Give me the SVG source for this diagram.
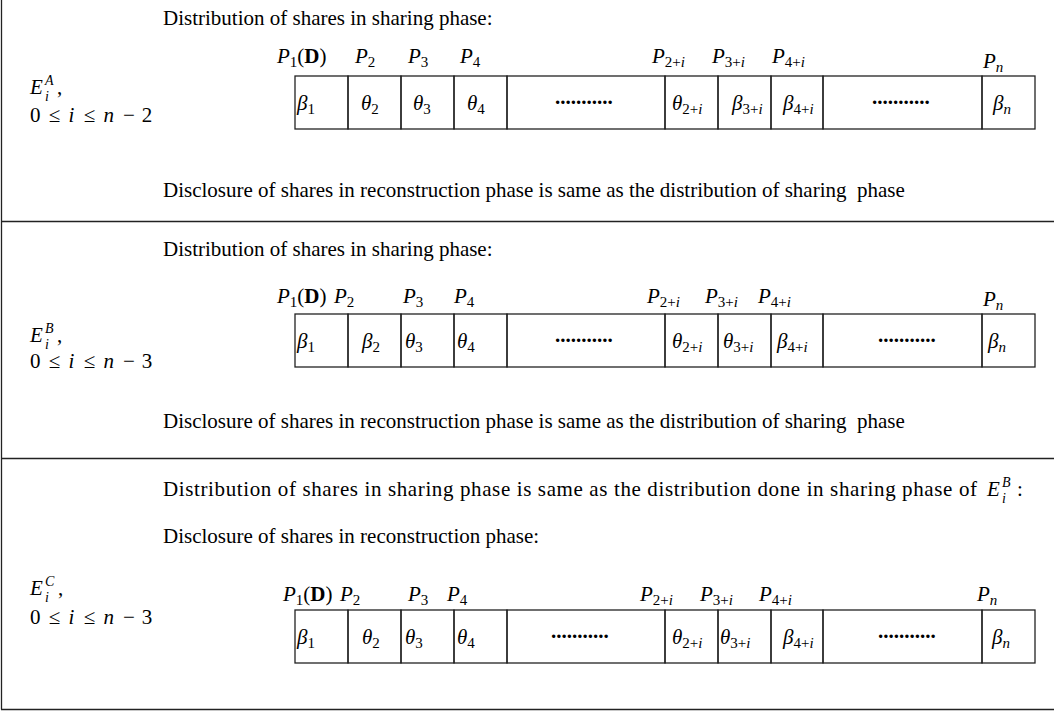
<svg xmlns="http://www.w3.org/2000/svg" width="1054" height="713" viewBox="0 0 1054 713">
  <style>
    .t { font-family: "Liberation Serif", "Times New Roman", serif; font-size: 21px; fill: #000; white-space: pre; }
    .mi { font-style: italic; }
    .sub { font-size: 15px; }
    .ss { font-size: 14px; font-style: italic; }
    .bf { font-weight: bold; }
    .dots { font-family: "Liberation Serif", serif; font-size: 21px; font-weight: bold; fill: #000; }
    .cell { fill: none; stroke: #222; stroke-width: 1.3; }
    .rule { stroke: #222; stroke-width: 1.3; fill: none; }
  </style>

  <!-- frame and panel separators -->
  <g id="frame">
    <line class="rule" x1="1.5" y1="0" x2="1.5" y2="709.5"/>
    <line class="rule" x1="1" y1="221.5" x2="1054" y2="221.5"/>
    <line class="rule" x1="1" y1="458.5" x2="1054" y2="458.5"/>
    <line class="rule" x1="1" y1="709.5" x2="1054" y2="709.5"/>
  </g>

  <!-- ===================== Panel A ===================== -->
  <g id="panelA">
    <g id="labelA">
      <text class="t"><tspan x="30" y="94" class="mi">E</tspan><tspan x="45" y="85" class="ss">A</tspan><tspan x="45" y="101" class="ss">i</tspan><tspan x="57" y="94">,</tspan></text>
      <text class="t"><tspan x="30" y="122">0</tspan><tspan x="54.5" y="122" text-anchor="middle">≤</tspan><tspan x="68.4" y="122" class="mi">i</tspan><tspan x="89.5" y="122" text-anchor="middle">≤</tspan><tspan x="103.5" y="122" class="mi">n</tspan><tspan x="129" y="122" text-anchor="middle">−</tspan><tspan x="141.8" y="122">2</tspan></text>
    </g>
    <text class="t" x="163" y="25">Distribution of shares in sharing phase:</text>

    <g id="partiesA">
      <text class="t" y="63"><tspan x="277" class="mi">P</tspan><tspan class="sub" dy="4">1</tspan><tspan dy="-4">(</tspan><tspan class="bf">D</tspan>)</text>
      <text class="t" y="63"><tspan x="355" class="mi">P</tspan><tspan class="sub" dy="4">2</tspan></text>
      <text class="t" y="63"><tspan x="408" class="mi">P</tspan><tspan class="sub" dy="4">3</tspan></text>
      <text class="t" y="63"><tspan x="460" class="mi">P</tspan><tspan class="sub" dy="4">4</tspan></text>
      <text class="t" y="63"><tspan x="652" class="mi">P</tspan><tspan class="sub" dy="4">2+</tspan><tspan class="sub mi">i</tspan></text>
      <text class="t" y="63"><tspan x="712" class="mi">P</tspan><tspan class="sub" dy="4">3+</tspan><tspan class="sub mi">i</tspan></text>
      <text class="t" y="63"><tspan x="772" class="mi">P</tspan><tspan class="sub" dy="4">4+</tspan><tspan class="sub mi">i</tspan></text>
      <text class="t" y="68"><tspan x="983" class="mi">P</tspan><tspan class="sub mi" dy="4">n</tspan></text>
    </g>

    <g id="sharesA">
      <g id="A1"><rect class="cell" x="295" y="76" width="53" height="53"/><text class="t" y="110"><tspan x="297" class="mi">β</tspan><tspan class="sub" dy="4">1</tspan></text></g>
      <g id="A2"><rect class="cell" x="348" y="76" width="53" height="53"/><text class="t" y="110"><tspan x="361" class="mi">θ</tspan><tspan class="sub" dy="4">2</tspan></text></g>
      <g id="A3"><rect class="cell" x="401" y="76" width="53" height="53"/><text class="t" y="110"><tspan x="413" class="mi">θ</tspan><tspan class="sub" dy="4">3</tspan></text></g>
      <g id="A4"><rect class="cell" x="454" y="76" width="53" height="53"/><text class="t" y="110"><tspan x="467" class="mi">θ</tspan><tspan class="sub" dy="4">4</tspan></text></g>
      <g id="A5"><rect class="cell" x="507" y="76" width="158" height="53"/><text class="dots" x="555" y="104">...........</text></g>
      <g id="A6"><rect class="cell" x="665" y="76" width="53" height="53"/><text class="t" y="110"><tspan x="672" class="mi">θ</tspan><tspan class="sub" dy="4">2+</tspan><tspan class="sub mi">i</tspan></text></g>
      <g id="A7"><rect class="cell" x="718" y="76" width="53" height="53"/><text class="t" y="110"><tspan x="732" class="mi">β</tspan><tspan class="sub" dy="4">3+</tspan><tspan class="sub mi">i</tspan></text></g>
      <g id="A8"><rect class="cell" x="771" y="76" width="52" height="53"/><text class="t" y="110"><tspan x="783" class="mi">β</tspan><tspan class="sub" dy="4">4+</tspan><tspan class="sub mi">i</tspan></text></g>
      <g id="A9"><rect class="cell" x="823" y="76" width="159" height="53"/><text class="dots" x="872" y="104">...........</text></g>
      <g id="A10"><rect class="cell" x="982" y="76" width="53" height="53"/><text class="t" y="110"><tspan x="993" class="mi">β</tspan><tspan class="sub mi" dy="4">n</tspan></text></g>
    </g>

    <text class="t" x="163" y="197">Disclosure of shares in reconstruction phase is same as the distribution of sharing  phase</text>
  </g>

  <!-- ===================== Panel B ===================== -->
  <g id="panelB">
    <g id="labelB">
      <text class="t"><tspan x="30" y="342" class="mi">E</tspan><tspan x="45" y="333" class="ss">B</tspan><tspan x="45" y="349" class="ss">i</tspan><tspan x="57" y="342">,</tspan></text>
      <text class="t"><tspan x="30" y="368">0</tspan><tspan x="54.5" y="368" text-anchor="middle">≤</tspan><tspan x="68.4" y="368" class="mi">i</tspan><tspan x="89.5" y="368" text-anchor="middle">≤</tspan><tspan x="103.5" y="368" class="mi">n</tspan><tspan x="129" y="368" text-anchor="middle">−</tspan><tspan x="141.8" y="368">3</tspan></text>
    </g>
    <text class="t" x="163" y="256">Distribution of shares in sharing phase:</text>

    <g id="partiesB">
      <text class="t" y="303"><tspan x="277" class="mi">P</tspan><tspan class="sub" dy="4">1</tspan><tspan dy="-4">(</tspan><tspan class="bf">D</tspan>)</text>
      <text class="t" y="303"><tspan x="334" class="mi">P</tspan><tspan class="sub" dy="4">2</tspan></text>
      <text class="t" y="303"><tspan x="403" class="mi">P</tspan><tspan class="sub" dy="4">3</tspan></text>
      <text class="t" y="303"><tspan x="454" class="mi">P</tspan><tspan class="sub" dy="4">4</tspan></text>
      <text class="t" y="303"><tspan x="647" class="mi">P</tspan><tspan class="sub" dy="4">2+</tspan><tspan class="sub mi">i</tspan></text>
      <text class="t" y="303"><tspan x="705" class="mi">P</tspan><tspan class="sub" dy="4">3+</tspan><tspan class="sub mi">i</tspan></text>
      <text class="t" y="303"><tspan x="758" class="mi">P</tspan><tspan class="sub" dy="4">4+</tspan><tspan class="sub mi">i</tspan></text>
      <text class="t" y="306"><tspan x="983" class="mi">P</tspan><tspan class="sub mi" dy="4">n</tspan></text>
    </g>

    <g id="sharesB">
      <g id="B1"><rect class="cell" x="295" y="314" width="53" height="53"/><text class="t" y="348"><tspan x="297" class="mi">β</tspan><tspan class="sub" dy="4">1</tspan></text></g>
      <g id="B2"><rect class="cell" x="348" y="314" width="53" height="53"/><text class="t" y="348"><tspan x="362" class="mi">β</tspan><tspan class="sub" dy="4">2</tspan></text></g>
      <g id="B3"><rect class="cell" x="401" y="314" width="53" height="53"/><text class="t" y="348"><tspan x="405" class="mi">θ</tspan><tspan class="sub" dy="4">3</tspan></text></g>
      <g id="B4"><rect class="cell" x="454" y="314" width="53" height="53"/><text class="t" y="348"><tspan x="457" class="mi">θ</tspan><tspan class="sub" dy="4">4</tspan></text></g>
      <g id="B5"><rect class="cell" x="507" y="314" width="158" height="53"/><text class="dots" x="555" y="342">...........</text></g>
      <g id="B6"><rect class="cell" x="665" y="314" width="53" height="53"/><text class="t" y="348"><tspan x="672" class="mi">θ</tspan><tspan class="sub" dy="4">2+</tspan><tspan class="sub mi">i</tspan></text></g>
      <g id="B7"><rect class="cell" x="718" y="314" width="53" height="53"/><text class="t" y="348"><tspan x="723" class="mi">θ</tspan><tspan class="sub" dy="4">3+</tspan><tspan class="sub mi">i</tspan></text></g>
      <g id="B8"><rect class="cell" x="771" y="314" width="52" height="53"/><text class="t" y="348"><tspan x="777" class="mi">β</tspan><tspan class="sub" dy="4">4+</tspan><tspan class="sub mi">i</tspan></text></g>
      <g id="B9"><rect class="cell" x="823" y="314" width="159" height="53"/><text class="dots" x="878" y="342">...........</text></g>
      <g id="B10"><rect class="cell" x="982" y="314" width="53" height="53"/><text class="t" y="348"><tspan x="988" class="mi">β</tspan><tspan class="sub mi" dy="4">n</tspan></text></g>
    </g>

    <text class="t" x="163" y="428">Disclosure of shares in reconstruction phase is same as the distribution of sharing  phase</text>
  </g>

  <!-- ===================== Panel C ===================== -->
  <g id="panelC">
    <g id="labelC">
      <text class="t"><tspan x="30" y="595" class="mi">E</tspan><tspan x="45" y="586" class="ss">C</tspan><tspan x="45" y="602" class="ss">i</tspan><tspan x="58" y="595">,</tspan></text>
      <text class="t"><tspan x="30" y="624">0</tspan><tspan x="54.5" y="624" text-anchor="middle">≤</tspan><tspan x="68.4" y="624" class="mi">i</tspan><tspan x="89.5" y="624" text-anchor="middle">≤</tspan><tspan x="103.5" y="624" class="mi">n</tspan><tspan x="129" y="624" text-anchor="middle">−</tspan><tspan x="141.8" y="624">3</tspan></text>
    </g>
    <text class="t" x="163" y="496" textLength="814" lengthAdjust="spacing">Distribution of shares in sharing phase is same as the distribution done in sharing phase of</text>
    <text class="t"><tspan x="987" y="496" class="mi">E</tspan><tspan x="1002" y="487" class="ss">B</tspan><tspan x="1002" y="503" class="ss">i</tspan><tspan x="1017" y="496">:</tspan></text>
    <text class="t" x="163" y="543">Disclosure of shares in reconstruction phase:</text>

    <g id="partiesC">
      <text class="t" y="601"><tspan x="283" class="mi">P</tspan><tspan class="sub" dy="4">1</tspan><tspan dy="-4">(</tspan><tspan class="bf">D</tspan>)</text>
      <text class="t" y="601"><tspan x="340" class="mi">P</tspan><tspan class="sub" dy="4">2</tspan></text>
      <text class="t" y="601"><tspan x="408" class="mi">P</tspan><tspan class="sub" dy="4">3</tspan></text>
      <text class="t" y="601"><tspan x="447" class="mi">P</tspan><tspan class="sub" dy="4">4</tspan></text>
      <text class="t" y="601"><tspan x="640" class="mi">P</tspan><tspan class="sub" dy="4">2+</tspan><tspan class="sub mi">i</tspan></text>
      <text class="t" y="601"><tspan x="700" class="mi">P</tspan><tspan class="sub" dy="4">3+</tspan><tspan class="sub mi">i</tspan></text>
      <text class="t" y="601"><tspan x="759" class="mi">P</tspan><tspan class="sub" dy="4">4+</tspan><tspan class="sub mi">i</tspan></text>
      <text class="t" y="601"><tspan x="977" class="mi">P</tspan><tspan class="sub mi" dy="4">n</tspan></text>
    </g>

    <g id="sharesC">
      <g id="C1"><rect class="cell" x="295" y="610" width="53" height="53"/><text class="t" y="644"><tspan x="297" class="mi">β</tspan><tspan class="sub" dy="4">1</tspan></text></g>
      <g id="C2"><rect class="cell" x="348" y="610" width="53" height="53"/><text class="t" y="644"><tspan x="362" class="mi">θ</tspan><tspan class="sub" dy="4">2</tspan></text></g>
      <g id="C3"><rect class="cell" x="401" y="610" width="53" height="53"/><text class="t" y="644"><tspan x="405" class="mi">θ</tspan><tspan class="sub" dy="4">3</tspan></text></g>
      <g id="C4"><rect class="cell" x="454" y="610" width="53" height="53"/><text class="t" y="644"><tspan x="457" class="mi">θ</tspan><tspan class="sub" dy="4">4</tspan></text></g>
      <g id="C5"><rect class="cell" x="507" y="610" width="158" height="53"/><text class="dots" x="551" y="638">...........</text></g>
      <g id="C6"><rect class="cell" x="665" y="610" width="53" height="53"/><text class="t" y="644"><tspan x="672" class="mi">θ</tspan><tspan class="sub" dy="4">2+</tspan><tspan class="sub mi">i</tspan></text></g>
      <g id="C7"><rect class="cell" x="718" y="610" width="53" height="53"/><text class="t" y="644"><tspan x="720" class="mi">θ</tspan><tspan class="sub" dy="4">3+</tspan><tspan class="sub mi">i</tspan></text></g>
      <g id="C8"><rect class="cell" x="771" y="610" width="52" height="53"/><text class="t" y="644"><tspan x="783" class="mi">β</tspan><tspan class="sub" dy="4">4+</tspan><tspan class="sub mi">i</tspan></text></g>
      <g id="C9"><rect class="cell" x="823" y="610" width="159" height="53"/><text class="dots" x="878" y="638">...........</text></g>
      <g id="C10"><rect class="cell" x="982" y="610" width="53" height="53"/><text class="t" y="644"><tspan x="992" class="mi">β</tspan><tspan class="sub mi" dy="4">n</tspan></text></g>
    </g>
  </g>
</svg>
